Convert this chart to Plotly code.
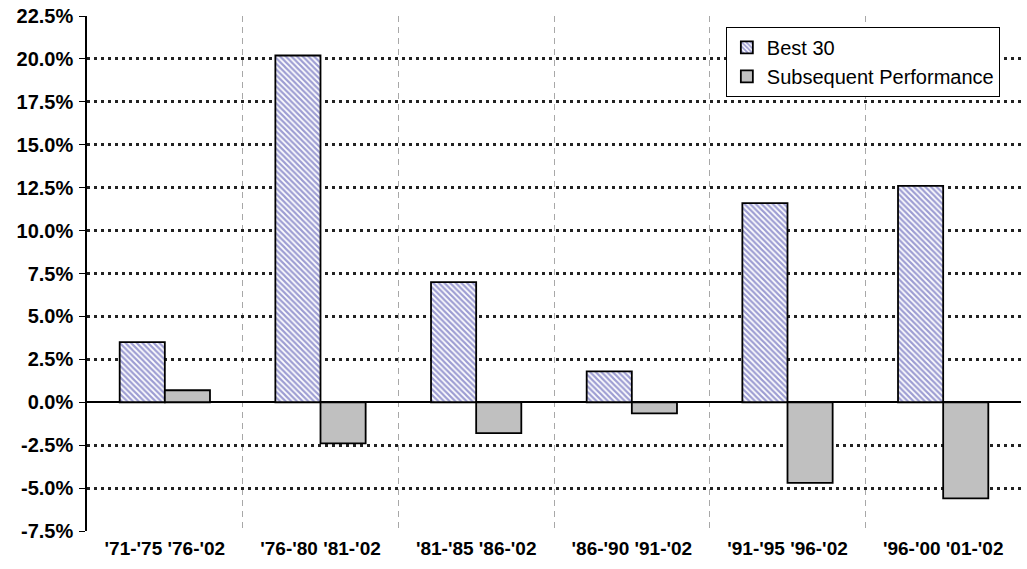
import plotly.graph_objects as go

categories = ["'71-'75 '76-'02", "'76-'80 '81-'02", "'81-'85 '86-'02",
              "'86-'90 '91-'02", "'91-'95 '96-'02", "'96-'00 '01-'02"]
best30 = [3.5, 20.2, 7.0, 1.8, 11.6, 12.6]
subsequent = [0.7, -2.4, -1.8, -0.65, -4.7, -5.6]
y_ticks = [-7.5, -5.0, -2.5, 0.0, 2.5, 5.0, 7.5, 10.0, 12.5, 15.0, 17.5, 20.0, 22.5]

FONT = "Liberation Sans, Arial, sans-serif"

fig = go.Figure()
fig.add_trace(go.Bar(
    x=categories, y=best30, name="Best 30",
    marker=dict(color="white", line=dict(color="black", width=1.8),
                pattern=dict(shape="\\", fgcolor="#3c3ca6", bgcolor="white",
                             size=4, solidity=0.55)),
))
fig.add_trace(go.Bar(
    x=categories, y=subsequent, name="Subsequent Performance",
    marker=dict(color="#c0c0c0", line=dict(color="black", width=1.8)),
))

fig.update_layout(
    width=1027, height=569,
    margin=dict(l=87, r=6, t=16, b=38),
    paper_bgcolor="white", plot_bgcolor="white",
    barmode="group", bargap=0.42, bargroupgap=0,
    font=dict(family=FONT, color="black"),
    legend=dict(x=0.684, y=0.979, xanchor="left", yanchor="top",
                bordercolor="black", borderwidth=1, bgcolor="white",
                font=dict(size=20, family=FONT), tracegroupgap=6,
                itemwidth=30),
    showlegend=True,
)
fig.update_xaxes(
    type="category", range=[-0.5, 5.5],
    tickson="boundaries", ticks="", showline=False,
    showgrid=True, gridcolor="#a8a8a8", gridwidth=1, griddash="6px,5px",
    tickfont=dict(size=19, family=FONT, weight="bold"),
    ticklabelstandoff=4,
)
fig.update_yaxes(
    range=[-7.5, 22.5], tickvals=y_ticks,
    ticktext=[f"{v:.1f}%" for v in y_ticks],
    ticks="outside", ticklen=6, tickcolor="black", tickwidth=1,
    showline=True, linecolor="black", linewidth=1.5,
    showgrid=True, gridcolor="#222222", gridwidth=2.5, griddash="3px,4px",
    zeroline=True, zerolinecolor="black", zerolinewidth=1.5,
    tickfont=dict(size=20, family=FONT, weight="bold"),
    ticklabelstandoff=2,
)

fig.write_html("out.html")
